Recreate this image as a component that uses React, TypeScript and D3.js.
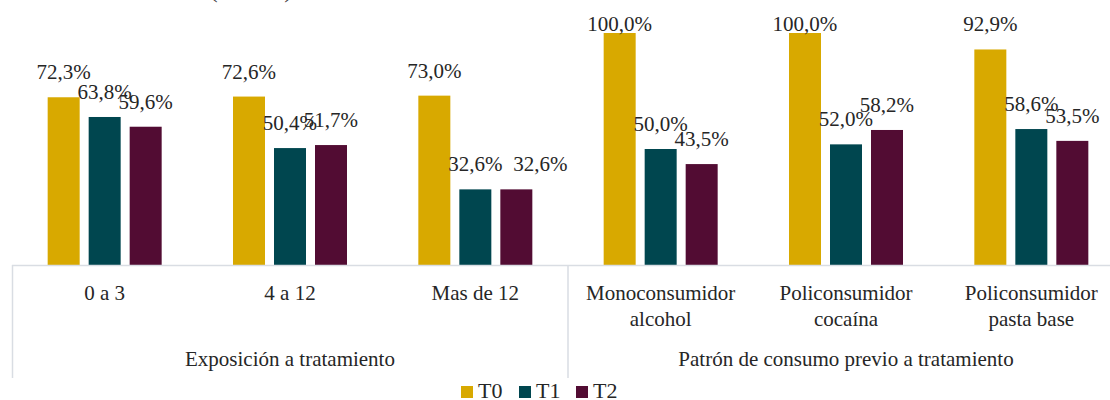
import React from 'react';
import * as d3 from 'd3';

// categories (two-line labels split by \n) and their groups
const categories = ['0 a 3', '4 a 12', 'Mas de 12', 'Monoconsumidor\nalcohol', 'Policonsumidor\ncocaína', 'Policonsumidor\npasta base'];
const groups = ['Exposición a tratamiento', 'Patrón de consumo previo a tratamiento'];
const groupOf = [0, 0, 0, 1, 1, 1];

const series = ['T0', 'T1', 'T2'];
const t0 = [72.3, 72.6, 73.0, 100.0, 100.0, 92.9];
const t1 = [63.8, 50.4, 32.6, 50.0, 52.0, 58.6];
const t2 = [59.6, 51.7, 32.6, 43.5, 58.2, 53.5];
const colors = ['#D8A900', '#00464F', '#520C33'];

const WIDTH = 1110;
const HEIGHT = 400;
const FONT = 'Liberation Serif, DejaVu Serif, serif';

export default function App() {
  const values = [t0, t1, t2];
  const left = 12;
  const right = 1124; // plot runs a bit past the visible edge
  const baseY = 265;

  const x0 = d3.scaleBand<string>().domain(categories).range([left, right]).padding(0);
  const bw = x0.bandwidth();
  const x1 = d3.scaleBand<string>().domain(series)
    .range([(bw - 114) / 2, (bw + 114) / 2])
    .paddingInner(9 / 41).paddingOuter(0);
  const y = d3.scaleLinear().domain([0, 100]).range([baseY, 33]);

  const fmt = (v: number) => v.toFixed(1).replace('.', ',') + '%';
  const gridColor = '#D9DDE3';
  const dividerX = x0(categories[3]) as number;
  const txt = { fontFamily: FONT };
  // the T2 label of "Mas de 12" was moved aside in the original so it does not collide
  const labelDx = (ci: number, si: number) => (ci === 2 && si === 2 ? 24 : 0);

  return (
    <svg width={WIDTH} height={HEIGHT} style={{ position: 'absolute', left: 0, top: 0, background: '#fff', fontFamily: FONT }}>
      {/* cut-off title */}
      <text x={251} y={-3} textAnchor="middle" fontSize={26} fill="#404040" style={txt}
        textLength={84} lengthAdjust="spacing">(en %)</text>

      {/* bars */}
      {categories.map((c, ci) => (
        <g key={c} transform={`translate(${x0(c)},0)`}>
          {series.map((s, si) => {
            const v = values[si][ci];
            return (
              <rect key={s} x={x1(s)} y={y(v)} width={x1.bandwidth()} height={baseY - y(v)}
                fill={colors[si]} />
            );
          })}
        </g>
      ))}

      {/* axis lines */}
      <line x1={left} x2={WIDTH} y1={baseY + 0.5} y2={baseY + 0.5} stroke={gridColor} strokeWidth={1.5} />
      <line x1={left + 0.5} x2={left + 0.5} y1={baseY} y2={378} stroke={gridColor} strokeWidth={1.5} />
      <line x1={dividerX} x2={dividerX} y1={baseY} y2={378} stroke={gridColor} strokeWidth={1.5} />

      {/* data labels */}
      {categories.map((c, ci) => (
        <g key={c + '-lab'} transform={`translate(${x0(c)},0)`}>
          {series.map((s, si) => {
            const v = values[si][ci];
            return (
              <text key={s} x={(x1(s) as number) + x1.bandwidth() / 2 + labelDx(ci, si)}
                y={Math.max(31, y(v) - 18)}
                textAnchor="middle" fontSize={21} fill="#262626" style={txt}>{fmt(v)}</text>
            );
          })}
        </g>
      ))}

      {/* category labels */}
      {categories.map((c) => (
        <text key={c + '-cat'} x={(x0(c) as number) + bw / 2} y={300} textAnchor="middle"
          fontSize={21} fill="#262626" style={txt}>
          {c.split('\n').map((line, i) => (
            <tspan key={i} x={(x0(c) as number) + bw / 2} dy={i === 0 ? 0 : 26}>{line}</tspan>
          ))}
        </text>
      ))}

      {/* group labels */}
      {groups.map((g, gi) => {
        const cats = categories.filter((_, i) => groupOf[i] === gi);
        const gx0 = x0(cats[0]) as number;
        const gx1 = (x0(cats[cats.length - 1]) as number) + bw;
        return (
          <text key={g} x={(gx0 + gx1) / 2} y={366} textAnchor="middle" fontSize={21} fill="#262626" style={txt}>{g}</text>
        );
      })}

      {/* legend */}
      {series.map((s, si) => {
        const lx = [461, 519, 576][si];
        return (
          <g key={s + '-leg'} transform={`translate(${lx},0)`}>
            <rect x={0} y={386} width={12} height={12} fill={colors[si]} />
            <text x={17} y={398} fontSize={22} fill="#262626" style={txt}>{s}</text>
          </g>
        );
      })}
    </svg>
  );
}
